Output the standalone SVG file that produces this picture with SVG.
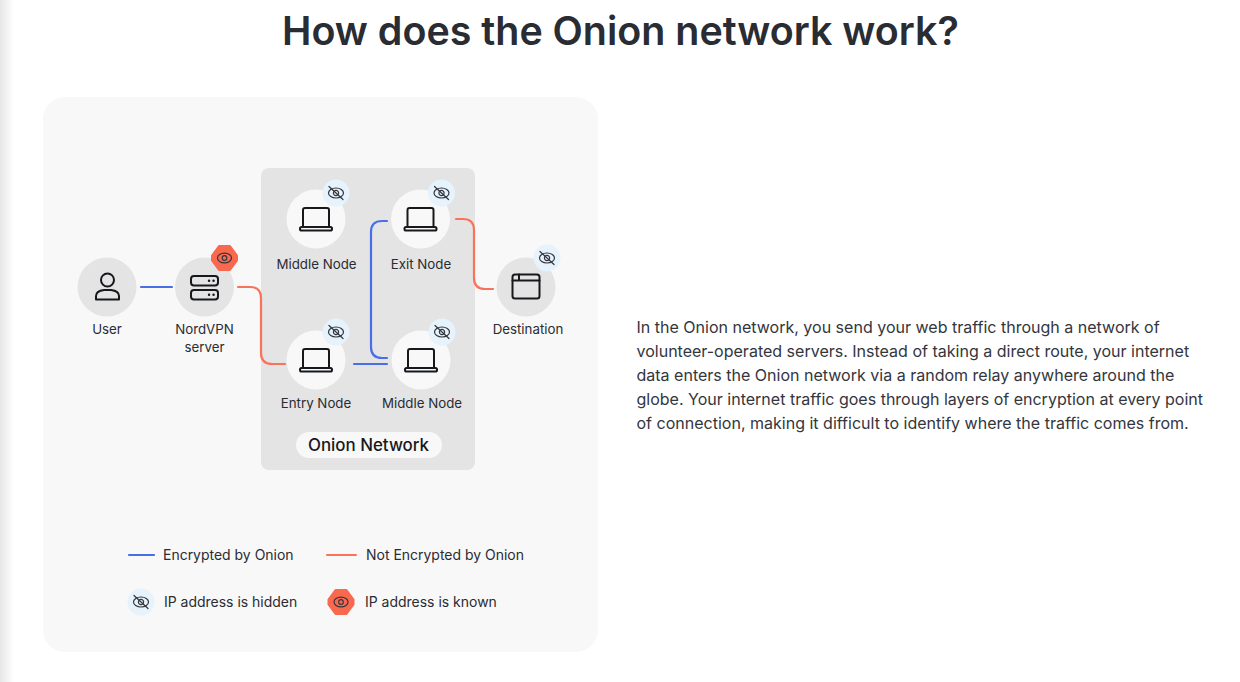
<svg xmlns="http://www.w3.org/2000/svg" xmlns:xlink="http://www.w3.org/1999/xlink" width="1240" height="682" viewBox="0 0 1240 682">
<style>
text{font-family:Inter,"Noto Sans","Liberation Sans",sans-serif;fill:#2a2c33}
.l{font-size:13.3px;text-anchor:middle}
.lg{font-size:13.97px}
.p{font-size:16.03px;fill:#33363d}
.c{fill:none;stroke-width:2.2;stroke-linecap:round;stroke-linejoin:round}
.b{stroke:#4a6ee8}
.r{stroke:#f9735b}
.i{fill:none;stroke:#17181c;stroke-width:2;stroke-linejoin:round;stroke-linecap:round}
.e{fill:none;stroke:#33363d;stroke-width:1.2;stroke-linecap:round}
</style>
<defs>
<linearGradient id="edge" x1="0" x2="1" y1="0" y2="0"><stop offset="0" stop-color="#e6e6e6"/><stop offset="1" stop-color="#ffffff"/></linearGradient>
<g id="laptop"><path class="i" d="M-13 8V-9a2 2 0 0 1 2-2H11a2 2 0 0 1 2 2V8"/><rect class="i" x="-16" y="8" width="32" height="3.6" rx="1.6"/></g>
<g id="hidden"><circle r="13.5" fill="#e6f2fc"/><ellipse class="e" rx="7.5" ry="5"/><circle class="e" r="2.6"/><path class="e" d="M-7 -6.500L7 6.500"/></g>
<g id="known"><polygon fill="#f9694f" stroke="#f9694f" stroke-width="2" stroke-linejoin="round" points="-5.500,-12 5.500,-12 12.500,-2.500 12.500,2.500 5.500,12 -5.500,12 -12.500,2.500 -12.500,-2.500"/><ellipse class="e" rx="7" ry="4.800"/><circle class="e" r="2.300"/></g>
</defs>
<rect width="1240" height="682" fill="#ffffff"/>
<rect width="14" height="682" fill="url(#edge)"/>
<text x="620.500" y="45" text-anchor="middle" style="font-size:39.4px;font-weight:600">How does the Onion network work?</text>
<rect x="43" y="97" width="555" height="555" rx="22" fill="#f8f8f8"/>
<rect x="261" y="168" width="214" height="302" rx="8" fill="#e4e4e4"/>
<g id="connectors">
<path class="c b" d="M141 287H172"/>
<path class="c r" d="M238 287H250Q261 287 261 298V353Q261 364 272 364H285"/>
<path class="c b" d="M354 364H387"/>
<path class="c b" d="M387 221H382Q371 221 371 232V347Q371 358 382 358H387"/>
<path class="c r" d="M456 219H463Q474 219 474 230V278Q474 289 485 289H493"/>
</g>
<g id="user"><circle cx="107" cy="287" r="29.500" fill="#e4e4e4"/><circle class="i" cx="107.500" cy="280" r="6.500"/><path class="i" d="M96 299.500V296Q96 291 104 290H111Q119 291 119 296V299.500Z"/><text class="l" x="107" y="334">User</text></g>
<g id="server"><circle cx="204.500" cy="287" r="29.500" fill="#e4e4e4"/><rect class="i" x="191" y="276" width="27" height="9.500" rx="3"/><rect class="i" x="191" y="290" width="27" height="9.500" rx="3"/><path d="M209 280.800h.1M213.500 280.800h.1M209 294.800h.1M213.500 294.800h.1" stroke="#17181c" stroke-width="2.400" stroke-linecap="round"/><use href="#known" x="224.500" y="258"/><text class="l" x="204.500" y="334">NordVPN</text><text class="l" x="204.500" y="352">server</text></g>
<g id="middle-top"><circle cx="316" cy="219" r="29.500" fill="#f8f8f8"/><use href="#laptop" x="316" y="219"/><use href="#hidden" x="336" y="193"/><text class="l" x="316.500" y="268.500">Middle Node</text></g>
<g id="exit"><circle cx="420.500" cy="219" r="29.500" fill="#f8f8f8"/><use href="#laptop" x="420.500" y="219"/><use href="#hidden" x="441.500" y="193"/><text class="l" x="421" y="268.500">Exit Node</text></g>
<g id="entry"><circle cx="316" cy="360" r="29.500" fill="#f8f8f8"/><use href="#laptop" x="316" y="360"/><use href="#hidden" x="336" y="332"/><text class="l" x="316" y="408">Entry Node</text></g>
<g id="middle-bottom"><circle cx="421" cy="360" r="29.500" fill="#f8f8f8"/><use href="#laptop" x="421" y="360"/><use href="#hidden" x="442" y="332"/><text class="l" x="422" y="408">Middle Node</text></g>
<g id="destination"><circle cx="526" cy="287" r="29.500" fill="#e4e4e4"/><rect class="i" x="512.500" y="274.500" width="27" height="24" rx="2.500"/><path class="i" d="M512.500 280.500H539.500M519 274.500V280.500"/><use href="#hidden" x="547" y="258"/><text class="l" x="528" y="334">Destination</text></g>
<g id="onion-label"><rect x="296" y="432" width="146" height="26" rx="13" fill="#f8f8f8"/><text x="368.500" y="451" text-anchor="middle" style="font-size:16.9px;font-weight:500;fill:#17181c">Onion Network</text></g>
<g id="legend">
<path class="c b" d="M129 555H154"/><text class="lg" x="163" y="560">Encrypted by Onion</text>
<path class="c r" d="M327 555H356"/><text class="lg" x="366" y="560">Not Encrypted by Onion</text>
<use href="#hidden" x="141" y="602" /><text class="lg" x="164" y="607">IP address is hidden</text>
<use href="#known" x="341" y="602"/><text class="lg" x="365" y="607">IP address is known</text>
</g>
<g id="body-text">
<text class="p" x="636.500" y="333">In the Onion network, you send your web traffic through a network of</text>
<text class="p" x="636.500" y="357">volunteer-operated servers. Instead of taking a direct route, your internet</text>
<text class="p" x="636.500" y="381">data enters the Onion network via a random relay anywhere around the</text>
<text class="p" x="636.500" y="405">globe. Your internet traffic goes through layers of encryption at every point</text>
<text class="p" x="636.500" y="429">of connection, making it difficult to identify where the traffic comes from.</text>
</g>
</svg>
